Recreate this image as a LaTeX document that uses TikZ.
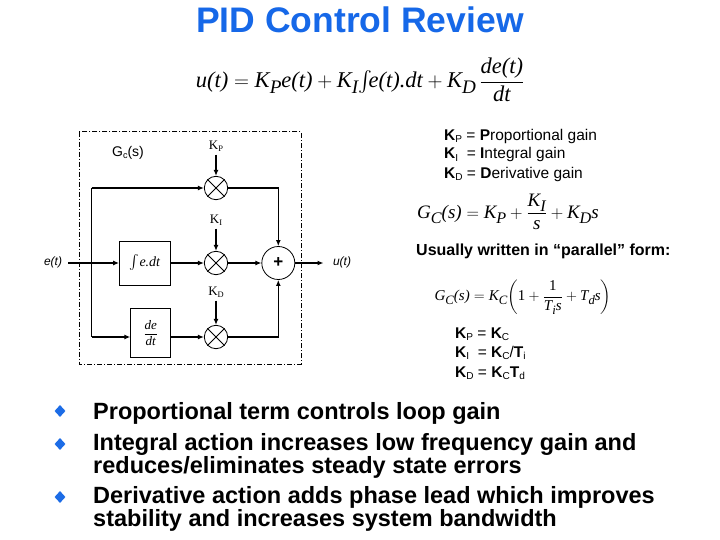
\documentclass[tikz,border=0pt]{standalone}
\usepackage{fontspec}
\usepackage{amsmath}
\usepackage{graphicx}
\setmainfont{Liberation Sans}
\newfontfamily\tms{Liberation Serif}
\usetikzlibrary{arrows.meta,shapes.geometric}
\definecolor{titleblue}{RGB}{22,104,232}
\definecolor{bulletblue}{RGB}{28,108,230}
\newcommand\ti[1]{\text{\tms\itshape #1}}
\newcommand\lsub[1]{\raisebox{-0.5ex}{\scalebox{0.85}{\ti{#1}}}}
\newcommand\ssub[1]{\raisebox{-0.3ex}{\scalebox{0.65}{#1}}}
\begin{document}
\begin{tikzpicture}[x=1pt,y=-1pt,
  mult/.style={circle, draw, line width=0.8pt, minimum size=23.4pt, inner sep=0pt},
  sig/.style={line width=1.2pt, -{Latex[length=6pt,width=5pt]}},
  wire/.style={line width=1.2pt},
  blk/.style={draw, line width=0.8pt, inner sep=0pt},
  klbl/.style={font=\fontsize{13}{15}\selectfont\tms},
  rtxt/.style={anchor=base west, inner sep=0pt, font=\fontsize{15.5}{18}\selectfont},
  btxt/.style={anchor=base west, inner sep=0pt, font=\bfseries\fontsize{23.5}{24}\selectfont},
  bul/.style={diamond, fill=bulletblue, minimum width=11pt, minimum height=12pt, inner sep=0pt},
  eqn/.style={inner sep=0pt}]
\useasboundingbox (0,0) rectangle (720,540);

% title
\node[font=\bfseries\fontsize{35.5}{38}\selectfont, text=titleblue] (title) at (360,20) {PID Control Review};

% main equation
\node[eqn, font=\fontsize{22.5}{27}\selectfont] (eq) at (360,80)
  {$\ti{u(t)}=\ti{K}\lsub{P}\ti{e(t)}+\ti{K}\lsub{I}{\textstyle\int}\!\ti{e(t).dt}+\ti{K}\lsub{D}\,\dfrac{\ti{de(t)}}{\ti{dt}}$};

% block diagram frame
\draw[line width=0.8pt, dash pattern=on 5pt off 2pt on 1pt off 2pt] (79.3,131.7) rectangle (301,364);
\node[font=\fontsize{14}{16}\selectfont] (gc) at (128,153) {G\ssub{c}(s)};

\node[mult] (mP) at (216,188) {};
\node[mult] (mI) at (216,263) {};
\node[mult] (mD) at (216,337) {};
\foreach \m in {mP,mI,mD}{
  \draw[line width=0.8pt] (\m.north west) -- (\m.south east) (\m.north east) -- (\m.south west);
}
\node[circle, draw, line width=0.8pt, minimum size=33pt, inner sep=0pt, font=\bfseries\fontsize{17}{17}\selectfont] (sum) at (278.3,263) {+};

\node[blk, minimum width=51pt, minimum height=44pt, font=\fontsize{14}{16}\selectfont] (int) at (145,263)
  {$\int\!\ti{e.dt}$};
\node[blk, minimum width=40pt, minimum height=49pt, font=\fontsize{13}{15}\selectfont] (der) at (150.7,333)
  {$\dfrac{\ti{de}}{\ti{dt}}$};

\node[klbl] (kP) at (216,146) {K\ssub{P}};
\node[klbl] (kI) at (216,220) {K\ssub{I}};
\node[klbl] (kD) at (216,292) {K\ssub{D}};

\node[font=\itshape\fontsize{12}{14}\selectfont] (et) at (53,262) {e(t)};
\node[font=\itshape\fontsize{12}{14}\selectfont] (ut) at (342,262) {u(t)};

\coordinate (in) at (68,263);
\coordinate (bt) at (91.7,188);
\coordinate (bb) at (91.7,337);
\coordinate (out) at (323.5,263);

\draw[sig] (in) -- (int);
\draw[wire] (bt) -- (bb);
\draw[sig] (bt) -- (mP);
\draw[sig] (bb) -- (der.west |- bb);
\draw[sig] (int) -- (mI);
\draw[sig] (der.east |- mD) -- (mD);
\draw[sig] (mI) -- (sum);
\draw[sig] (mP) -| (sum);
\draw[sig] (mD) -| (sum);
\draw[sig] (sum) -- (out);
\draw[sig] (kP) -- (mP);
\draw[sig] (kI) -- (mI);
\draw[sig] (kD) -- (mD);

% right column
\node[rtxt] (d1) at (444,140.5) {\textbf{K}\ssub{P} = \textbf{P}roportional gain};
\node[rtxt] (d2) at (444,159) {\textbf{K}\ssub{I}\ \ = \textbf{I}ntegral gain};
\node[rtxt] (d3) at (444,178.5) {\textbf{K}\ssub{D} = \textbf{D}erivative gain};

\node[eqn, font=\fontsize{19}{22}\selectfont] (g1) at (508,212)
  {$\ti{G}\lsub{C}\ti{(s)}=\ti{K}\lsub{P}+\dfrac{\ti{K}\lsub{I}}{\ti{s}}+\ti{K}\lsub{D}\ti{s}$};

\node[anchor=west, inner sep=0pt, font=\bfseries\fontsize{16}{18}\selectfont] (usu) at (416,251) {Usually written in “parallel” form:};

\node[eqn, font=\fontsize{15}{18}\selectfont] (g2) at (523,297)
  {$\ti{G}\lsub{C}\ti{(s)}=\ti{K}\lsub{C}\!\left(\text{\tms 1}+\dfrac{\text{\tms 1}}{\ti{T}\lsub{i}\ti{s}}+\ti{T}\lsub{d}\ti{s}\right)$};

\node[rtxt] (r1) at (455,338.5) {\textbf{K}\ssub{P} = \textbf{K}\ssub{C}};
\node[rtxt] (r2) at (455,357.5) {\textbf{K}\ssub{I}\ \ = \textbf{K}\ssub{C}/\textbf{T}\ssub{i}};
\node[rtxt] (r3) at (455,377.5) {\textbf{K}\ssub{D} = \textbf{K}\ssub{C}\textbf{T}\ssub{d}};

% bullets
\node[bul] (b1) at (60,411) {};
\node[bul] (b2) at (60,444) {};
\node[bul] (b3) at (60,497) {};
\node[btxt] (t1) at (93,419.5) {Proportional term controls loop gain};
\node[btxt] (t2) at (93,450.5) {Integral action increases low frequency gain and};
\node[btxt] (t2b) at (93,473) {reduces/eliminates steady state errors};
\node[btxt] (t3) at (93,503.5) {Derivative action adds phase lead which improves};
\node[btxt] (t3b) at (93,526) {stability and increases system bandwidth};
\end{tikzpicture}
\end{document}
